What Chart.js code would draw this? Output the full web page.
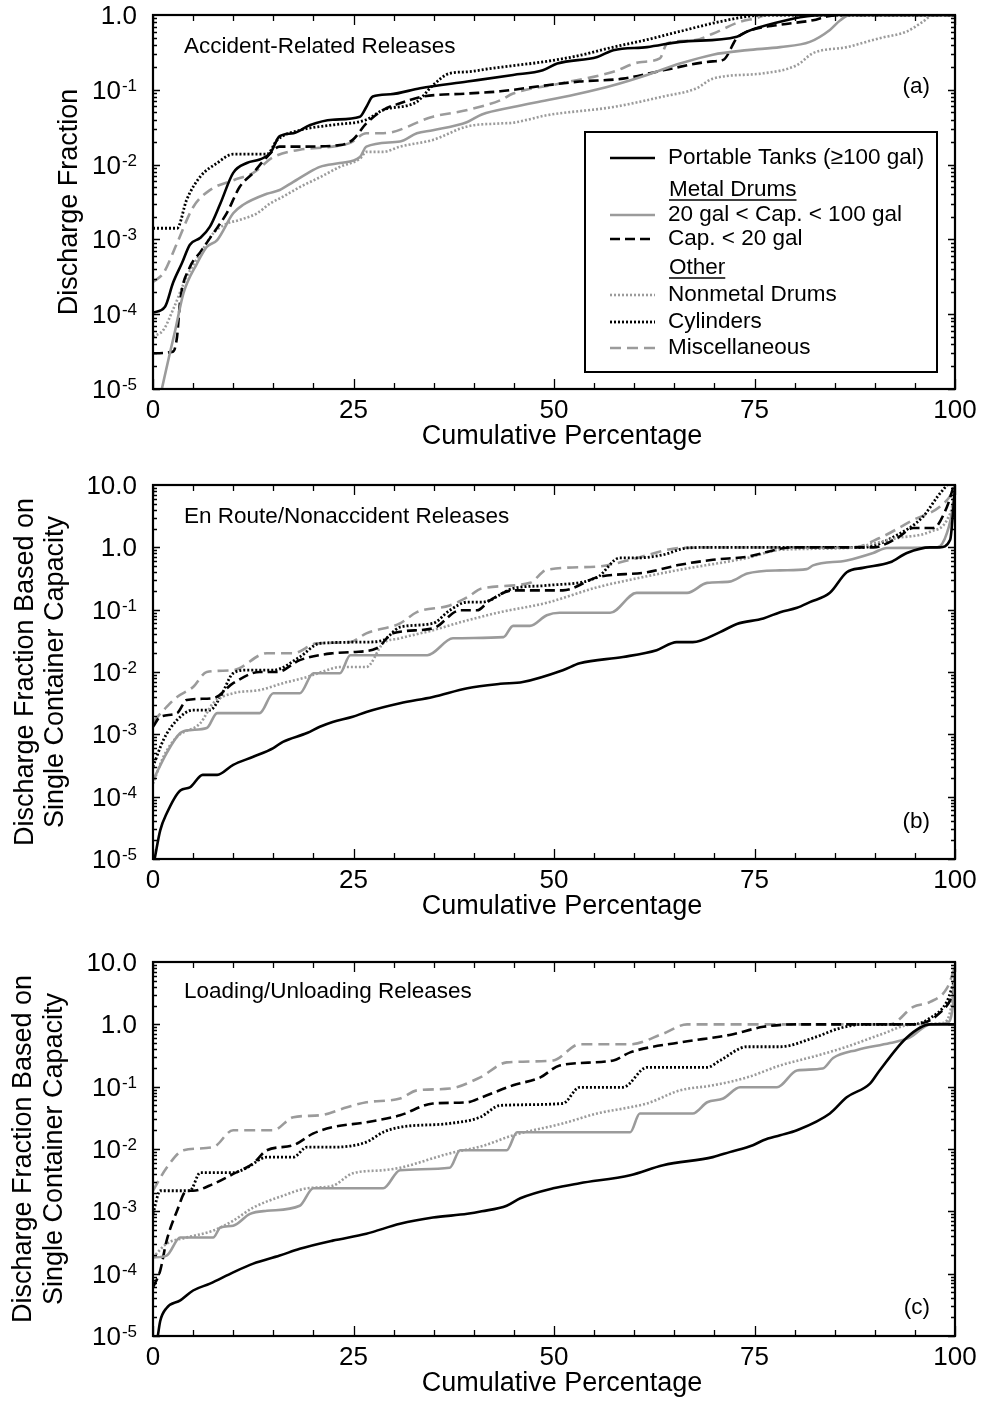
<!DOCTYPE html>
<html>
<head>
<meta charset="utf-8">
<title>Discharge fraction vs cumulative percentage</title>
<script src="https://cdn.jsdelivr.net/npm/chart.js@4.4.1/dist/chart.umd.min.js"></script>
<style>
  html, body { margin: 0; padding: 0; background: #fff; }
  body { width: 984px; height: 1404px; position: relative; overflow: hidden; }
  canvas { position: absolute; left: 0; }
</style>
</head>
<body>
<canvas id="chart-a" width="984" height="470" style="top:0px"></canvas>
<canvas id="chart-b" width="984" height="470" style="top:470px"></canvas>
<canvas id="chart-c" width="984" height="457" style="top:947px"></canvas>
<script>
// ─── AXES / LABELS ──────────────────────────────────
const xTicks = [0, 25, 50, 75, 100];
const xTickLabels = ['0', '25', '50', '75', '100'];
const xMinorStep = 5;
const xTitle = 'Cumulative Percentage';

const yTicksA = [1, 1e-1, 1e-2, 1e-3, 1e-4, 1e-5];
const yLabelsA = [['1.0', ''], ['10', '-1'], ['10', '-2'], ['10', '-3'], ['10', '-4'], ['10', '-5']];
const yTicksBC = [10, 1, 1e-1, 1e-2, 1e-3, 1e-4, 1e-5];
const yLabelsBC = [['10.0', ''], ['1.0', ''], ['10', '-1'], ['10', '-2'], ['10', '-3'], ['10', '-4'], ['10', '-5']];

const seriesLabels = ['Portable Tanks (\u2265100 gal)', '20 gal < Cap. < 100 gal', 'Cap. < 20 gal',
                      'Nonmetal Drums', 'Cylinders', 'Miscellaneous'];
const legendHeads = ['Metal Drums', 'Other'];

// ─── DATA: [cumulative %, discharge fraction] ───────
// (a) accident-related
const aTanks = [[0,1.05e-4],[1.5,1.26e-4],[2.5,2.63e-4],[3.6,4.79e-4],[4.6,8.5e-4],[5.9,1.05e-3],[7.1,1.48e-3],[8.4,3.02e-3],[10,7.76e-3],[11.7,1.05e-2],[13.3,1.17e-2],[14.6,1.41e-2],[15.8,2.4e-2],[17.5,2.63e-2],[19.6,3.39e-2],[22.4,3.98e-2],[25.8,4.37e-2],[26.6,5.89e-2],[27.4,8.13e-2],[29.6,8.71e-2],[33.3,0.105],[39.2,0.129],[44.9,0.158],[48.6,0.182],[50.4,0.224],[55.4,0.275],[57.4,0.339],[61.6,0.372],[65.7,0.437],[72.8,0.513],[74.1,0.603],[78.2,0.813],[80.7,0.933],[84,1],[100,1]];
const aMetalMid = [[1.1,1e-5],[2.1,3e-5],[2.8,6.3e-5],[3.8,1.91e-4],[5.5,4.79e-4],[6.7,7.94e-4],[8,9.8e-4],[10,2.24e-3],[11.2,2.88e-3],[14.2,4.07e-3],[15.8,4.57e-3],[17.5,5.89e-3],[19.2,7.59e-3],[20.8,9.33e-3],[23.3,1.05e-2],[25.8,1.26e-2],[26.6,1.74e-2],[30.8,2.04e-2],[32.9,2.63e-2],[34.9,2.88e-2],[39.2,3.72e-2],[41,4.68e-2],[44.9,5.89e-2],[49.1,7.24e-2],[53.2,8.91e-2],[57.4,0.115],[61.6,0.158],[65.7,0.224],[69.8,0.295],[74.1,0.339],[78.2,0.372],[81.9,0.437],[84.4,0.631],[85.7,0.851],[86.9,1],[100,1]];
const aMetalSmall = [[0,3e-5],[2.5,3.16e-5],[3,5e-5],[3.4,1.55e-4],[4.6,4.27e-4],[5.9,6.76e-4],[7.5,1.2e-3],[9.2,2.24e-3],[10.8,5.01e-3],[12.5,7.76e-3],[14.2,1.26e-2],[15.8,1.74e-2],[18.3,1.74e-2],[23.3,1.82e-2],[24.9,2.14e-2],[26.6,3.55e-2],[28.7,5.37e-2],[30.8,6.61e-2],[33.7,8.13e-2],[39.2,8.91e-2],[43.3,9.55e-2],[49.1,0.115],[53.2,0.129],[58.6,0.141],[63.6,0.182],[69.8,0.24],[71.1,0.251],[72.8,0.49],[74.1,0.603],[78.2,0.741],[82.3,0.851],[84,0.955],[85.5,1],[100,1]];
const aNonmetal = [[0,5e-5],[1.3,6.17e-5],[2.5,1.15e-4],[4.2,3.16e-4],[5.9,6.46e-4],[7.5,1.2e-3],[9.2,1.62e-3],[10.8,1.82e-3],[13,2.24e-3],[14.6,3.02e-3],[16.2,3.72e-3],[18.3,5.01e-3],[20.8,6.76e-3],[23.3,9.33e-3],[25.8,1.2e-2],[26.6,1.48e-2],[28.7,1.48e-2],[30.8,1.74e-2],[34.9,2.14e-2],[39.2,3.24e-2],[43.3,3.55e-2],[44.9,3.63e-2],[49.1,4.57e-2],[57.4,5.89e-2],[63.6,8.13e-2],[67.8,0.105],[69.8,0.141],[76.1,0.166],[80.3,0.214],[82.3,0.309],[86.5,0.372],[90.6,0.49],[94,0.603],[96,0.813],[97.3,1],[100,1]];
const aCylinders = [[0,1.41e-3],[3,1.41e-3],[4.2,3.39e-3],[5.9,6.92e-3],[8,1.05e-2],[10,1.38e-2],[14.2,1.38e-2],[15.5,2.14e-2],[18.3,2.88e-2],[22.4,3.39e-2],[26.6,3.98e-2],[28.7,5.37e-2],[32.9,6.92e-2],[34.9,0.115],[37,0.166],[39.2,0.174],[42.4,0.195],[49.1,0.24],[53.2,0.288],[57.4,0.372],[61.6,0.468],[65.7,0.603],[69.8,0.776],[74.1,0.955],[76,1],[100,1]];
const aMisc = [[0,2.69e-4],[1.3,3.55e-4],[3,8.91e-4],[5,2.69e-3],[7.1,4.57e-3],[10,6.17e-3],[12.5,7.76e-3],[15,1.26e-2],[18.3,1.58e-2],[22.4,1.74e-2],[24.6,1.95e-2],[26.6,2.63e-2],[28.7,2.63e-2],[34.9,4.37e-2],[39.2,5.37e-2],[43.3,7.24e-2],[44.9,8.91e-2],[51.1,0.123],[57.4,0.174],[60.7,0.234],[63.2,0.263],[64.1,0.417],[67.4,0.457],[69.8,0.562],[73.2,0.813],[75.3,0.912],[76.5,1],[100,1]];

// (b) en route / nonaccident
const bTanks = [[0.2,1e-5],[0.9,2.88e-5],[1.7,5.37e-5],[3.4,1.26e-4],[4.6,1.41e-4],[6.2,2.24e-4],[8,2.24e-4],[10,3.24e-4],[12.5,4.37e-4],[15,6.03e-4],[16.2,7.59e-4],[19.2,1.05e-3],[20.8,1.32e-3],[22.4,1.58e-3],[24.9,1.91e-3],[26.6,2.29e-3],[30.8,3.16e-3],[34.9,3.98e-3],[39.2,5.5e-3],[43.3,6.46e-3],[46.1,6.92e-3],[51.1,1.07e-2],[53.2,1.38e-2],[58.6,1.74e-2],[62.8,2.24e-2],[65.3,3.02e-2],[67.3,3.02e-2],[70.7,4.37e-2],[72.8,5.89e-2],[76.1,7.24e-2],[78.2,9.12e-2],[80.3,0.107],[81.9,0.132],[84.4,0.186],[86.5,0.398],[88.5,0.468],[91.9,0.575],[94,0.813],[96.9,1],[98.1,1],[99.4,1.32],[99.75,3.55],[100,9.33]];
const bMetalMid = [[0,1.82e-4],[1.7,5.01e-4],[3.4,1.05e-3],[4.6,1.17e-3],[6.7,1.26e-3],[8,2.19e-3],[13.3,2.19e-3],[15,4.57e-3],[18.3,4.57e-3],[20,9.55e-3],[23.3,9.55e-3],[24.6,1.86e-2],[34.2,1.86e-2],[37.4,3.47e-2],[43.7,3.63e-2],[44.9,5.5e-2],[47,5.5e-2],[49.1,8.13e-2],[50.7,8.91e-2],[57,8.91e-2],[60.3,0.186],[66.6,0.186],[69.1,0.269],[71.9,0.282],[74.1,0.38],[78.2,0.427],[81.5,0.447],[82.3,0.513],[86.5,0.617],[89.8,0.813],[91.5,0.977],[97.8,1],[99,1.7],[99.8,5.13],[100,10]];
const bMetalSmall = [[0,1.32e-3],[0.9,1.91e-3],[3,2.19e-3],[4.2,3.55e-3],[7.5,3.8e-3],[10,6.61e-3],[13.3,1e-2],[15.5,1e-2],[18.3,1.55e-2],[22.4,2e-2],[24.9,2.09e-2],[27.9,2.4e-2],[29.9,4.17e-2],[34.9,5.01e-2],[38.3,9.77e-2],[40.4,9.77e-2],[42,0.141],[44.9,0.204],[51.1,0.204],[55.4,0.331],[61.6,0.398],[65.7,0.525],[69.8,0.631],[74.1,0.708],[79.8,1],[89.8,1],[92.8,1.41],[94.8,2.04],[97.3,2.04],[99,4.47],[99.8,9.33]];
const bNonmetal = [[0,1.62e-4],[1.3,4.37e-4],[3,9.12e-4],[5.9,1.51e-3],[7.5,3.16e-3],[10,4.57e-3],[13.3,5.13e-3],[16.2,6.61e-3],[19.2,8.32e-3],[21.7,1.07e-2],[23.3,1.2e-2],[26.6,1.2e-2],[28.7,2.88e-2],[30.8,3.47e-2],[34.9,4.68e-2],[39.2,6.76e-2],[43.3,9.12e-2],[49.1,0.129],[55.4,0.229],[59.5,0.302],[65.7,0.437],[74.1,0.676],[78.2,0.912],[86.5,0.977],[92.8,1.41],[96.9,1.78],[99,2.75],[99.8,5.75],[100,10]];
const bCylinders = [[0,3.02e-4],[1.3,8.13e-4],[3,1.7e-3],[5,2.45e-3],[7.1,2.45e-3],[8.4,3.98e-3],[10,9.55e-3],[11.7,1.07e-2],[15,1.07e-2],[18.3,1.74e-2],[20.8,2.88e-2],[26.6,3.02e-2],[28.7,3.24e-2],[30.8,5.25e-2],[34.9,6.03e-2],[37,9.77e-2],[39.2,0.132],[41,0.132],[44.9,0.219],[49.1,0.245],[55.4,0.331],[58.2,0.676],[60.3,0.676],[63.6,0.759],[66.6,0.977],[69.8,1],[88.5,1],[92.8,1.58],[96,3.09],[97.8,6.46],[99,10]];
const bMisc = [[0,1.58e-3],[1.7,2.75e-3],[3,3.98e-3],[5,5.75e-3],[6.7,1e-2],[10,1.07e-2],[14.2,2e-2],[17.5,2e-2],[20.4,2.88e-2],[24.6,3.02e-2],[26.6,4.17e-2],[30.8,6.03e-2],[32.9,9.12e-2],[37,0.117],[39.2,0.158],[41,0.219],[47,0.269],[49.1,0.437],[55.4,0.49],[59.5,0.631],[65.7,0.977],[69.8,1],[87.3,1],[90.6,1.41],[94.8,2.75],[98.1,4.47],[99.6,7.41],[100,10]];

// (c) loading / unloading
const cTanks = [[0.6,1e-5],[0.9,1.74e-5],[1.7,2.82e-5],[3.4,3.72e-5],[5,5.37e-5],[7.1,6.92e-5],[10,1.05e-4],[12.5,1.45e-4],[15.8,1.95e-4],[18.3,2.51e-4],[22.4,3.39e-4],[26.6,4.37e-4],[30.8,6.31e-4],[34.9,7.94e-4],[39.2,9.12e-4],[41,1e-3],[44.1,1.23e-3],[45.8,1.62e-3],[49.9,2.34e-3],[53.2,2.82e-3],[59.5,3.8e-3],[63.6,5.5e-3],[69.8,7.41e-3],[71.9,8.91e-3],[74.8,1.15e-2],[76.1,1.38e-2],[78.2,1.66e-2],[80.3,2e-2],[84.4,3.72e-2],[86.5,6.76e-2],[89.4,0.112],[90.6,0.182],[94,0.617],[96.9,1],[100,1]];
const cMetalMid = [[0,1.82e-4],[1.7,1.95e-4],[3.4,3.8e-4],[7.5,3.8e-4],[8.4,5.5e-4],[10,5.89e-4],[12.1,9.12e-4],[14.2,1.02e-3],[18.3,1.23e-3],[20,2.34e-3],[28.7,2.34e-3],[30.8,4.57e-3],[37,5.01e-3],[38.3,9.55e-3],[44.1,9.55e-3],[45.4,1.86e-2],[59.5,1.86e-2],[60.7,3.72e-2],[67.3,3.72e-2],[69.1,5.62e-2],[71.1,6.46e-2],[73.2,9.77e-2],[77.8,9.77e-2],[80.3,0.182],[83.5,0.195],[84.8,0.288],[87.8,0.389],[91.9,0.501],[94.4,0.617],[96.9,1],[99,1.05],[99.8,2.45],[100,8.32]];
const cMetalSmall = [[0,6.03e-5],[0.9,1.12e-4],[1.7,3.39e-4],[3,1.02e-3],[4.2,2.14e-3],[5,2.14e-3],[7.5,2.75e-3],[10,3.98e-3],[12.5,5.89e-3],[14.2,9.55e-3],[17.5,1.15e-2],[20,1.78e-2],[22.4,2.24e-2],[26.6,2.69e-2],[30.8,3.47e-2],[34.9,5.37e-2],[39.2,5.62e-2],[41,6.76e-2],[44.9,0.105],[48.3,0.141],[50.7,0.219],[57.4,0.263],[59.5,0.355],[65.7,0.513],[71.9,0.676],[76.1,0.912],[80.3,1],[94.8,1],[97.8,1.41],[99.8,3.16],[100,3.98]];
const cNonmetal = [[0,1.82e-4],[1.7,3.02e-4],[4.2,3.8e-4],[7.5,4.9e-4],[10,7.08e-4],[12.5,1.15e-3],[16.2,1.78e-3],[19.2,2.34e-3],[22.4,2.57e-3],[24.9,4.07e-3],[28.7,4.57e-3],[30.8,5.01e-3],[37,8.51e-3],[41.1,1.12e-2],[44.9,1.66e-2],[51.1,2.57e-2],[55.4,3.72e-2],[59.5,4.68e-2],[61.6,5.37e-2],[65.7,8.71e-2],[69.8,0.105],[74.1,0.141],[78.2,0.219],[82.3,0.302],[86.5,0.437],[90.6,0.676],[94.8,1],[98.5,1.05],[99.6,2.19],[100,7.41]];
const cCylinders = [[0,9.12e-4],[0.9,2.14e-3],[4.6,2.14e-3],[5.9,4.17e-3],[10,4.17e-3],[11.7,5.01e-3],[14.2,7.41e-3],[17.5,7.41e-3],[19.2,1.07e-2],[22.4,1.07e-2],[26.6,1.29e-2],[28.7,1.86e-2],[30.8,2.24e-2],[37,2.57e-2],[40.8,3.24e-2],[43.3,5.01e-2],[51.1,5.37e-2],[53.2,9.77e-2],[58.6,9.77e-2],[61.6,0.204],[69.1,0.204],[70.7,0.263],[74.1,0.437],[78.2,0.437],[82.3,0.603],[85.7,0.871],[88.5,1],[94.8,1],[96.9,1.26],[99,2.34],[100,5.5]];
const cMisc = [[0,2.14e-3],[1.7,5.01e-3],[3.8,9.55e-3],[7.5,1.07e-2],[10,2e-2],[15,2e-2],[17.5,3.24e-2],[20.8,3.47e-2],[24.2,4.68e-2],[26.6,5.62e-2],[30.8,6.46e-2],[32.9,8.71e-2],[37,9.33e-2],[40.8,0.141],[44.1,0.245],[49.9,0.263],[53.2,0.479],[59.5,0.479],[63.6,0.708],[66.6,1],[91.9,1],[94.8,1.91],[96.9,2.29],[99,3.8],[100,8.32]];

// ─── STYLES ─────────────────────────────────────────
const FONT = '"Liberation Sans", Arimo, Arial, Helvetica, sans-serif';
const GRAY = '#9b9b9b';
const seriesStyles = [
  { color: '#000', dash: [],      width: 2.6 },
  { color: GRAY,   dash: [],      width: 2.6 },
  { color: '#000', dash: [10, 5], width: 2.6 },
  { color: GRAY,   dash: [2, 2],  width: 2.6 },
  { color: '#000', dash: [2, 2],  width: 2.8 },
  { color: GRAY,   dash: [11, 6], width: 2.6 },
];

Chart.defaults.font.family = FONT;

function makeDatasets(series) {
  return series.map((pts, i) => ({
    label: seriesLabels[i],
    data: pts.map(p => ({ x: p[0], y: p[1] })),
    borderColor: seriesStyles[i].color,
    borderDash: seriesStyles[i].dash,
    borderWidth: seriesStyles[i].width,
    borderCapStyle: 'butt',
    pointRadius: 0,
    fill: false,
    cubicInterpolationMode: 'monotone',
  }));
}

// ─── DECORATION (frame, inward ticks, labels) ───────
function drawYLabels(ctx, y, area, ticks, labels) {
  const right = area.left - 16;
  ticks.forEach((v, i) => {
    const py = y.getPixelForValue(v);
    const [base, sup] = labels[i];
    ctx.font = '26px ' + FONT;
    const wb = ctx.measureText(base).width;
    ctx.font = '17px ' + FONT;
    const ws = sup ? ctx.measureText(sup).width + 1 : 0;
    ctx.textAlign = 'left';
    ctx.textBaseline = 'alphabetic';
    ctx.font = '26px ' + FONT;
    ctx.fillText(base, right - ws - wb, py + 9);
    if (sup) {
      ctx.font = '17px ' + FONT;
      ctx.fillText(sup, right - ws + 1, py + 1);
    }
  });
}

function drawLegend(ctx) {
  const L = { left: 585, top: 132, right: 937, bottom: 372 };
  ctx.fillStyle = '#fff';
  ctx.fillRect(L.left, L.top, L.right - L.left, L.bottom - L.top);
  ctx.lineWidth = 2;
  ctx.strokeStyle = '#000';
  ctx.setLineDash([]);
  ctx.strokeRect(L.left, L.top, L.right - L.left, L.bottom - L.top);

  const rows = [
    { s: 0, y: 158 }, { h: 0, y: 190 }, { s: 1, y: 215 }, { s: 2, y: 239 },
    { h: 1, y: 268 }, { s: 3, y: 295 }, { s: 4, y: 322 }, { s: 5, y: 348 },
  ];
  ctx.font = '22.5px ' + FONT;
  ctx.textAlign = 'left';
  ctx.textBaseline = 'middle';
  rows.forEach(r => {
    ctx.fillStyle = '#000';
    if (r.h !== undefined) {
      const t = legendHeads[r.h];
      ctx.fillText(t, 669, r.y);
      const w = ctx.measureText(t).width;
      ctx.lineWidth = 1.6;
      ctx.setLineDash([]);
      ctx.strokeStyle = '#000';
      ctx.beginPath();
      ctx.moveTo(669, r.y + 10); ctx.lineTo(669 + w, r.y + 10);
      ctx.stroke();
    } else {
      const st = seriesStyles[r.s];
      ctx.strokeStyle = st.color;
      ctx.lineWidth = st.width;
      ctx.setLineDash(st.dash);
      ctx.beginPath();
      ctx.moveTo(610, r.y); ctx.lineTo(655, r.y);
      ctx.stroke();
      ctx.setLineDash([]);
      ctx.fillText(seriesLabels[r.s], 668, r.y);
    }
  });
}

function makeDecor(p) {
  return {
    id: 'decor',
    afterDraw(chart) {
      const { ctx, chartArea: a } = chart;
      const x = chart.scales.x, y = chart.scales.y;
      ctx.save();
      ctx.setLineDash([]);
      ctx.strokeStyle = '#000';

      // inward ticks
      ctx.lineWidth = 1.3;
      ctx.beginPath();
      for (let v = x.min; v <= x.max; v += xMinorStep) {
        const px = Math.round(x.getPixelForValue(v)) + 0.5;
        const len = xTicks.includes(v) ? 10 : 6;
        ctx.moveTo(px, a.bottom); ctx.lineTo(px, a.bottom - len);
        ctx.moveTo(px, a.top); ctx.lineTo(px, a.top + len);
      }
      const e0 = Math.round(Math.log10(y.min)), e1 = Math.round(Math.log10(y.max));
      for (let e = e0; e < e1; e++) {
        for (let k = 1; k <= 9; k++) {
          const py = Math.round(y.getPixelForValue(k * Math.pow(10, e))) + 0.5;
          const len = k === 1 ? 7 : 4;
          ctx.moveTo(a.left, py); ctx.lineTo(a.left + len, py);
          ctx.moveTo(a.right, py); ctx.lineTo(a.right - len, py);
        }
      }
      ctx.stroke();

      // frame
      ctx.lineWidth = 2.2;
      ctx.strokeRect(a.left, a.top, a.right - a.left, a.bottom - a.top);

      ctx.fillStyle = '#000';
      // x tick labels + title
      ctx.font = '26px ' + FONT;
      ctx.textAlign = 'center';
      ctx.textBaseline = 'middle';
      xTicks.forEach((v, i) => ctx.fillText(xTickLabels[i], x.getPixelForValue(v), a.bottom + 22));
      ctx.font = '27px ' + FONT;
      ctx.fillText(xTitle, (a.left + a.right) / 2 + 8, a.bottom + 48);

      // y tick labels
      drawYLabels(ctx, y, a, p.yTicks, p.yLabels);

      // y title
      const cy = (a.top + a.bottom) / 2;
      ctx.font = '27px ' + FONT;
      ctx.textAlign = 'center';
      ctx.textBaseline = 'middle';
      p.yTitle.forEach((t, i) => {
        ctx.save();
        ctx.translate(p.yTitleX[i], cy);
        ctx.rotate(-Math.PI / 2);
        ctx.fillText(t, 0, 0);
        ctx.restore();
      });

      // panel note and tag
      ctx.font = '22.5px ' + FONT;
      ctx.textAlign = 'left';
      ctx.fillText(p.note, 184, p.noteY);
      ctx.textAlign = 'right';
      ctx.fillText(p.tag, 930, p.tagY);

      if (p.legend) drawLegend(ctx);
      ctx.restore();
    }
  };
}

// ─── PANELS ─────────────────────────────────────────
const panels = [
  { id: 'chart-a', series: [aTanks, aMetalMid, aMetalSmall, aNonmetal, aCylinders, aMisc],
    yMin: 1e-5, yMax: 1, yTicks: yTicksA, yLabels: yLabelsA,
    yTitle: ['Discharge Fraction'], yTitleX: [70],
    note: 'Accident-Related Releases', noteY: 47, tag: '(a)', tagY: 87, legend: true },
  { id: 'chart-b', series: [bTanks, bMetalMid, bMetalSmall, bNonmetal, bCylinders, bMisc],
    yMin: 1e-5, yMax: 10, yTicks: yTicksBC, yLabels: yLabelsBC,
    yTitle: ['Discharge Fraction Based on', 'Single Container Capacity'], yTitleX: [26, 56],
    note: 'En Route/Nonaccident Releases', noteY: 47, tag: '(b)', tagY: 352, legend: false },
  { id: 'chart-c', series: [cTanks, cMetalMid, cMetalSmall, cNonmetal, cCylinders, cMisc],
    yMin: 1e-5, yMax: 10, yTicks: yTicksBC, yLabels: yLabelsBC,
    yTitle: ['Discharge Fraction Based on', 'Single Container Capacity'], yTitleX: [24, 55],
    note: 'Loading/Unloading Releases', noteY: 45, tag: '(c)', tagY: 361, legend: false },
];

let charts = {};

panels.forEach(p => {
  const canvas = document.getElementById(p.id);
  charts[p.id] = new Chart(canvas, {
    type: 'line',
    data: { datasets: makeDatasets(p.series) },
    options: {
      responsive: false,
      animation: false,
      events: [],
      layout: { padding: { left: 153, top: 15, right: 29, bottom: canvas.height - 389 } },
      plugins: { legend: { display: false }, tooltip: { enabled: false } },
      scales: {
        x: { type: 'linear', min: 0, max: 100, display: false },
        y: { type: 'logarithmic', min: p.yMin, max: p.yMax, display: false },
      },
    },
    plugins: [makeDecor(p)],
  });
});
</script>
</body>
</html>
